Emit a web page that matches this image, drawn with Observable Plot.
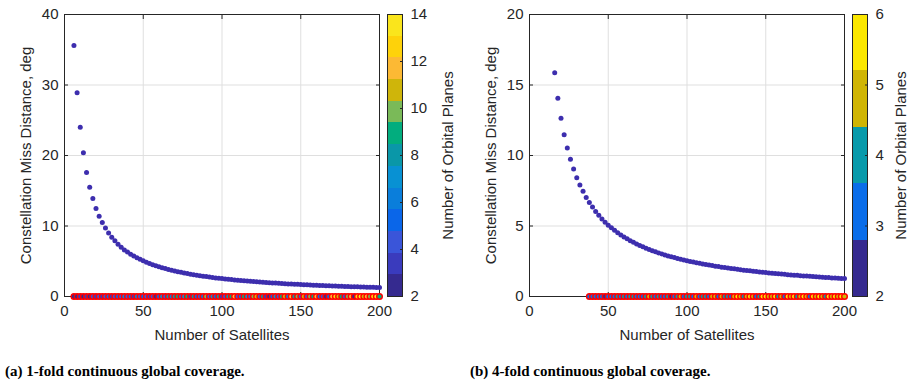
<!DOCTYPE html>
<html><head><meta charset="utf-8">
<script src="https://cdn.jsdelivr.net/npm/d3@7"></script>
<script src="https://cdn.jsdelivr.net/npm/@observablehq/plot@0.6"></script>
<style>
body{margin:0;background:#fff;}
#root{position:relative;width:907px;height:382px;overflow:hidden;background:#fff;}
.p{position:absolute;top:0;}
.cap{position:absolute;top:364px;font-family:"Liberation Serif","Times New Roman",serif;font-weight:bold;font-size:15px;line-height:1;color:#000;white-space:nowrap;}
</style></head><body>
<div id="root">
 <div class="p" id="a" style="left:0px"></div>
 <div class="p" id="acb" style="left:387px"></div>
 <div class="p" id="b" style="left:465px"></div>
 <div class="p" id="bcb" style="left:852px"></div>
 <div class="cap" style="left:5px">(a) 1-fold continuous global coverage.</div>
 <div class="cap" style="left:470px">(b) 4-fold continuous global coverage.</div>
</div>
<script>
// ---------- data ----------
const xTicks = [0, 50, 100, 150, 200];
const yTicksA = [0, 10, 20, 30, 40];
const yTicksB = [0, 5, 10, 15, 20];
const cbTicksA = [2, 4, 6, 8, 10, 12, 14];
const cbTicksB = [2, 3, 4, 5, 6];

const satsA = [6,8,10,12,14,16,18,20,22,24,26,28,30,32,34,36,38,40,42,44,46,48,50,52,54,56,58,60,62,64,66,68,70,72,74,76,78,80,82,84,86,88,90,92,94,96,98,100,102,104,106,108,110,112,114,116,118,120,122,124,126,128,130,132,134,136,138,140,142,144,146,148,150,152,154,156,158,160,162,164,166,168,170,172,174,176,178,180,182,184,186,188,190,192,194,196,198,200];
const missA = [35.6,28.9,24.0,20.4,17.6,15.5,13.9,12.5,11.4,10.5,
  9.7,9.0,8.4,7.9,7.4,7.0,6.6,6.3,6.0,5.75,
  5.5,5.27,5.06,4.87,4.69,4.52,4.37,4.22,4.09,3.96,
  3.84,3.73,3.62,3.52,3.43,3.34,3.25,3.17,3.09,3.02,
  2.95,2.88,2.82,2.76,2.70,2.64,2.59,2.54,2.49,2.44,
  2.40,2.35,2.31,2.27,2.23,2.19,2.15,2.12,2.08,2.05,
  2.02,1.99,1.96,1.93,1.90,1.87,1.84,1.82,1.79,1.77,
  1.74,1.72,1.70,1.67,1.65,1.63,1.61,1.59,1.57,1.55,
  1.53,1.51,1.50,1.48,1.46,1.45,1.43,1.41,1.40,1.38,
  1.37,1.35,1.34,1.32,1.31,1.30,1.28,1.27];
const planesA = [2,2,3,2,3,2,4,3,4,3,4,5,3,4,5,4,6,4,5,3,6,4,5,4,
  3,4,2,5,7,4,8,6,8,9,4,7,9,3,8,5,4,6,10,4,7,5,8,3,
  4,8,9,12,4,5,9,7,4,10,11,4,8,3,2,5,7,4,9,11,6,12,8,10,4,
  11,4,10,9,12,5,4,2,5,12,13,11,9,4,10,12,2,13,14,11,12,10,13,14,9];

const satsB = [16,18,20,22,24,26,28,30,32,34,36,38,40,42,44,46,48,50,52,54,56,58,60,62,64,66,68,70,72,74,76,78,80,82,84,86,88,90,92,94,96,98,100,102,104,106,108,110,112,114,116,118,120,122,124,126,128,130,132,134,136,138,140,142,144,146,148,150,152,154,156,158,160,162,164,166,168,170,172,174,176,178,180,182,184,186,188,190,192,194,196,198,200];
const missB = [15.86,14.06,12.64,11.48,10.53,9.73,9.04,8.43,7.9,7.46,7.03,6.67,6.34,6.03,5.76,
  5.5,5.27,5.06,4.87,4.69,4.52,4.37,4.22,4.09,3.96,
  3.84,3.73,3.62,3.52,3.43,3.34,3.25,3.17,3.09,3.02,
  2.95,2.88,2.82,2.76,2.70,2.64,2.59,2.54,2.49,2.44,
  2.40,2.35,2.31,2.27,2.23,2.19,2.15,2.12,2.08,2.05,
  2.02,1.99,1.96,1.93,1.90,1.87,1.84,1.82,1.79,1.77,
  1.74,1.72,1.70,1.67,1.65,1.63,1.61,1.59,1.57,1.55,
  1.53,1.51,1.50,1.48,1.46,1.45,1.43,1.41,1.40,1.38,
  1.37,1.35,1.34,1.32,1.31,1.30,1.28,1.27];
const rowSatsB = [38,40,42,44,46,48,50,52,54,56,58,60,62,64,66,68,70,72,74,76,78,80,82,84,86,88,90,92,94,96,98,100,102,104,106,108,110,112,114,116,118,120,122,124,126,128,130,132,134,136,138,140,142,144,146,148,150,152,154,156,158,160,162,164,166,168,170,172,174,176,178,180,182,184,186,188,190,192,194,196,198,200];
const planesB = [3,3,3,3,3,2,3,3,3,4,3,4,3,4,4,3,3,3,4,5,4,3,4,3,3,4,2,3,4,5,3,4,4,3,5,3,4,4,3,5,
  5,3,5,4,4,3,5,6,5,4,5,6,5,3,4,6,6,5,5,6,4,5,3,6,5,6,4,5,6,5,3,6,5,6,5,4,6,5,6,5,6,5];

const coloursA = ["#352a8f","#3a3bbd","#3a55d9","#0a66e9","#0a7edb","#0891d3","#0a97a8","#02ad7e","#7aba58","#cfb50a","#fcb934","#fed20a","#fae51c"];
const coloursB = ["#352a8f","#0a6de9","#089aab","#d0b504","#fbe700"];
const curveColour = "#3d2eae";

// ---------- helpers ----------
const font = "'Liberation Sans', Arial, Helvetica, sans-serif";
function thresholds(lo, hi, n) { return d3.range(1, n).map(k => lo + k * (hi - lo) / n); }

function mainPlot({sats, miss, rowSats, rowPlanes, yMax, yTicks, cdomain, crange}) {
  const curve = sats.map((n, i) => ({n, d: miss[i]}));
  const row = rowSats.map((n, i) => ({n, p: rowPlanes[i]}));
  return Plot.plot({
    width: 384, height: 342, marginLeft: 64, marginRight: 5, marginTop: 14, marginBottom: 46,
    style: {fontFamily: font, fontSize: "15px", color: "#262626", background: "transparent", overflow: "visible"},
    x: {domain: [0, 200]},
    y: {domain: [0, yMax]},
    color: {type: "threshold", domain: cdomain, range: crange},
    marks: [
      Plot.gridX(xTicks, {stroke: "#dfdfdf", strokeOpacity: 1}),
      Plot.gridY(yTicks, {stroke: "#dfdfdf", strokeOpacity: 1}),
      Plot.axisX(xTicks, {anchor: "bottom", tickSize: -4, tickPadding: 13, label: "Number of Satellites", labelAnchor: "center", labelArrow: "none", labelOffset: 43}),
      Plot.axisX(xTicks, {anchor: "top", tickSize: -4, tickFormat: () => "", label: null}),
      Plot.axisY(yTicks, {anchor: "left", tickSize: -4, tickPadding: 10, label: "Constellation Miss Distance, deg", labelAnchor: "center", labelArrow: "none", labelOffset: 44}),
      Plot.axisY(yTicks, {anchor: "right", tickSize: -4, tickFormat: () => "", label: null}),
      Plot.frame({stroke: "#262626"}),
      Plot.dot(curve, {x: "n", y: "d", r: 2.5, fill: curveColour, stroke: null}),
      Plot.dot(row, {x: "n", y: 0, r: 2.8, fill: "p", stroke: "#ff0000", strokeWidth: 1.4})
    ]
  });
}

function colourBar({lo, hi, n, ticks, width, marginRight, labelOffset, cdomain, crange}) {
  const step = (hi - lo) / n;
  const bands = d3.range(n).map(k => ({y1: lo + k * step, y2: lo + (k + 1) * step, v: lo + (k + 0.5) * step}));
  return Plot.plot({
    width, height: 342, marginLeft: 0, marginRight, marginTop: 14, marginBottom: 46,
    style: {fontFamily: font, fontSize: "15px", color: "#262626", background: "transparent", overflow: "visible"},
    x: {domain: [0, 1], axis: null},
    y: {domain: [lo, hi]},
    color: {type: "threshold", domain: cdomain, range: crange},
    marks: [
      Plot.rect(bands, {x1: 0, x2: 1, y1: "y1", y2: "y2", fill: "v", shapeRendering: "crispEdges"}),
      Plot.frame({stroke: "#262626"}),
      Plot.axisY(ticks, {anchor: "right", tickSize: -3, tickPadding: 11, tickFormat: "d", label: "Number of Orbital Planes", labelAnchor: "center", labelArrow: "none", labelOffset})
    ]
  });
}

const cdomA = thresholds(2, 14, coloursA.length);
const cdomB = thresholds(2, 6, coloursB.length);

document.getElementById("a").append(mainPlot({sats: satsA, miss: missA, rowSats: satsA, rowPlanes: planesA, yMax: 40, yTicks: yTicksA, cdomain: cdomA, crange: coloursA}));
document.getElementById("acb").append(colourBar({lo: 2, hi: 14, n: coloursA.length, ticks: cbTicksA, width: 75, marginRight: 60, labelOffset: 50, cdomain: cdomA, crange: coloursA}));
document.getElementById("b").append(mainPlot({sats: satsB, miss: missB, rowSats: rowSatsB, rowPlanes: planesB, yMax: 20, yTicks: yTicksB, cdomain: cdomB, crange: coloursB}));
document.getElementById("bcb").append(colourBar({lo: 2, hi: 6, n: coloursB.length, ticks: cbTicksB, width: 55, marginRight: 40, labelOffset: 38, cdomain: cdomB, crange: coloursB}));
</script>
</body></html>
